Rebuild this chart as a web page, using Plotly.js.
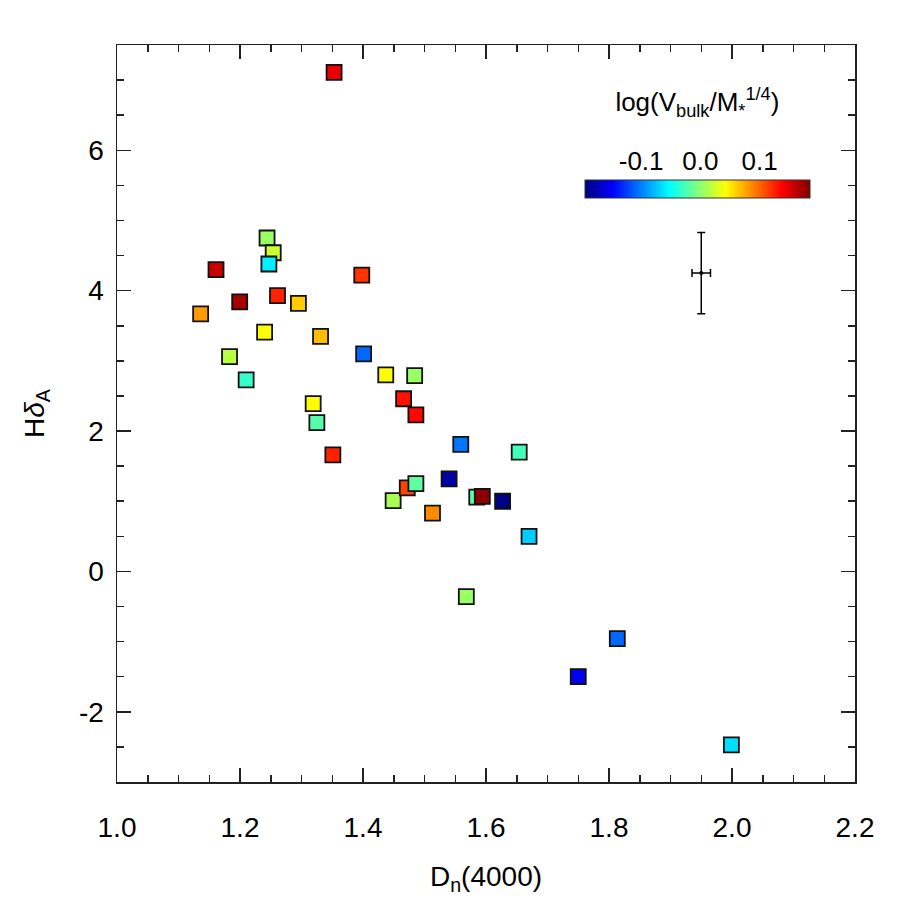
<!DOCTYPE html>
<html>
<head>
<meta charset="utf-8">
<script src="https://cdn.plot.ly/plotly-3.0.1.min.js"></script>
<style>html,body{margin:0;padding:0;background:#fff;}#chart{width:900px;height:900px;}</style>
</head>
<body>
<div id="chart"></div>
<script>
// D_n(4000) of each galaxy
const dn4000 = [1.136, 1.161, 1.183, 1.1995, 1.210, 1.240, 1.244, 1.254, 1.247, 1.261,
                1.295, 1.319, 1.325, 1.331, 1.351, 1.353, 1.398, 1.401, 1.437, 1.449,
                1.466, 1.472, 1.484, 1.486, 1.486, 1.513, 1.540, 1.559, 1.568, 1.585,
                1.594, 1.627, 1.654, 1.670, 1.750, 1.8135, 1.999];
// H delta_A of each galaxy
const hdeltaA = [3.67, 4.30, 3.06, 3.84, 2.73, 3.41, 4.75, 4.54, 4.38, 3.93,
                 3.82, 2.39, 2.12, 3.35, 1.66, 7.11, 4.22, 3.10, 2.80, 1.01,
                 2.46, 1.19, 2.79, 1.25, 2.23, 0.83, 1.32, 1.81, -0.36, 1.06,
                 1.07, 1.00, 1.70, 0.50, -1.50, -0.957, -2.47];
// log(V_bulk / M_*^(1/4)) colour value of each galaxy
const logVbulk = [0.080, 0.157, 0.017, 0.170, -0.033, 0.043, 0.005, 0.023, -0.058, 0.125,
                  0.062, 0.043, -0.021, 0.067, 0.125, 0.145, 0.118, -0.109, 0.043, 0.011,
                  0.131, 0.113, 0.005, -0.018, 0.135, 0.086, -0.180, -0.103, 0.005, -0.020,
                  0.180, -0.193, -0.028, -0.071, -0.153, -0.109, -0.065];

// typical error bar
const errX = [1.95];
const errY = [4.25];
const errXsize = [0.015];
const errYsize = [0.58];

// axis ticks
const xTickVals = [1.0, 1.2, 1.4, 1.6, 1.8, 2.0, 2.2];
const xTickText = ['1.0', '1.2', '1.4', '1.6', '1.8', '2.0', '2.2'];
const yTickVals = [-2, 0, 2, 4, 6];
const yTickText = ['-2', '0', '2', '4', '6'];
const cbTickVals = [-0.1, 0.0, 0.1];
const cbTickText = ['-0.1', '0.0', '0.1'];
const cbRange = [-0.195, 0.185];

const jet = [[0, 'rgb(0,0,127)'], [0.125, 'rgb(0,0,255)'], [0.375, 'rgb(0,255,255)'],
             [0.625, 'rgb(255,255,0)'], [0.875, 'rgb(255,0,0)'], [1, 'rgb(127,0,0)']];

const FONT = 'Liberation Sans, Arial, Helvetica, sans-serif';

// colour bar geometry (plot-area fractions)
const plotW = 738, plotH = 737;
const cbLeft = 0.634, cbLenPx = 225, cbThick = 18;
const cbTop = 0.8168;

const traces = [
  {
    type: 'scatter', mode: 'markers',
    x: dn4000, y: hdeltaA,
    marker: {
      symbol: 'square', size: 15,
      color: logVbulk, colorscale: jet, cmin: cbRange[0], cmax: cbRange[1],
      line: {color: '#111', width: 1.8},
      showscale: true,
      colorbar: {
        orientation: 'h',
        x: cbLeft, xanchor: 'left', y: cbTop, yanchor: 'top',
        len: cbLenPx, lenmode: 'pixels', thickness: cbThick, thicknessmode: 'pixels',
        xpad: 0, ypad: 0, outlinewidth: 1, outlinecolor: '#333',
        showticklabels: false, ticks: '', borderwidth: 0
      }
    },
    hoverinfo: 'skip', showlegend: false
  },
  {
    type: 'scatter', mode: 'markers',
    x: errX, y: errY,
    marker: {symbol: 'circle', size: 4, color: '#000'},
    error_x: {type: 'data', array: errXsize, color: '#000', thickness: 1.5, width: 4},
    error_y: {type: 'data', array: errYsize, color: '#000', thickness: 1.5, width: 4},
    hoverinfo: 'skip', showlegend: false
  },
  {
    type: 'scatter', mode: 'markers', x: [], y: [], xaxis: 'x2', yaxis: 'y2',
    hoverinfo: 'skip', showlegend: false
  }
];

const layout = {
  width: 900, height: 900,
  margin: {l: 117, r: 45, t: 45, b: 118},
  paper_bgcolor: '#fff', plot_bgcolor: '#fff',
  font: {family: FONT, size: 28, color: '#000'},
  showlegend: false,
  xaxis: {
    range: [1.0, 2.2], tickvals: xTickVals, ticktext: xTickText,
    ticks: 'inside', ticklen: 14, tickwidth: 1.5, tickcolor: '#222',
    minor: {dtick: 0.05, tick0: 1.0, ticks: 'inside', ticklen: 7, tickwidth: 1.5, tickcolor: '#222', showgrid: false},
    showline: true, linecolor: '#222', linewidth: 1.5, mirror: 'allticks',
    showgrid: false, zeroline: false,
    ticklabelstandoff: 20,
    tickfont: {family: FONT, size: 28, color: '#000'},
    title: {text: 'D<sub>n</sub>(4000)', font: {family: FONT, size: 28, color: '#000'}, standoff: 24}
  },
  yaxis: {
    range: [-3, 7.5], tickvals: yTickVals, ticktext: yTickText,
    ticks: 'inside', ticklen: 14, tickwidth: 1.5, tickcolor: '#222',
    minor: {dtick: 0.5, tick0: 0, ticks: 'inside', ticklen: 7, tickwidth: 1.5, tickcolor: '#222', showgrid: false},
    showline: true, linecolor: '#222', linewidth: 1.5, mirror: 'allticks',
    showgrid: false, zeroline: false,
    ticklabelstandoff: 6,
    tickfont: {family: FONT, size: 28, color: '#000'},
    title: {text: 'H<i>\u03B4</i><sub>A</sub>', font: {family: FONT, size: 28, color: '#000'}, standoff: 26}
  },
  xaxis2: {
    domain: [cbLeft, cbLeft + cbLenPx / plotW],
    range: cbRange, anchor: 'y2', side: 'top',
    tickvals: cbTickVals, ticktext: cbTickText,
    ticks: '', showline: false, showgrid: false, zeroline: false,
    ticklabelstandoff: 4,
    tickfont: {family: FONT, size: 26, color: '#000'},
    title: {text: 'log(V<sub>bulk</sub>/M<sub>*</sub><sup>1/4</sup>)', font: {family: FONT, size: 26, color: '#000'}, standoff: 26},
    fixedrange: true
  },
  yaxis2: {
    domain: [cbTop - cbThick / plotH, cbTop],
    anchor: 'x2', visible: false, range: [0, 1], fixedrange: true
  }
};

Plotly.newPlot('chart', traces, layout, {staticPlot: true, displayModeBar: false});
</script>
</body>
</html>
